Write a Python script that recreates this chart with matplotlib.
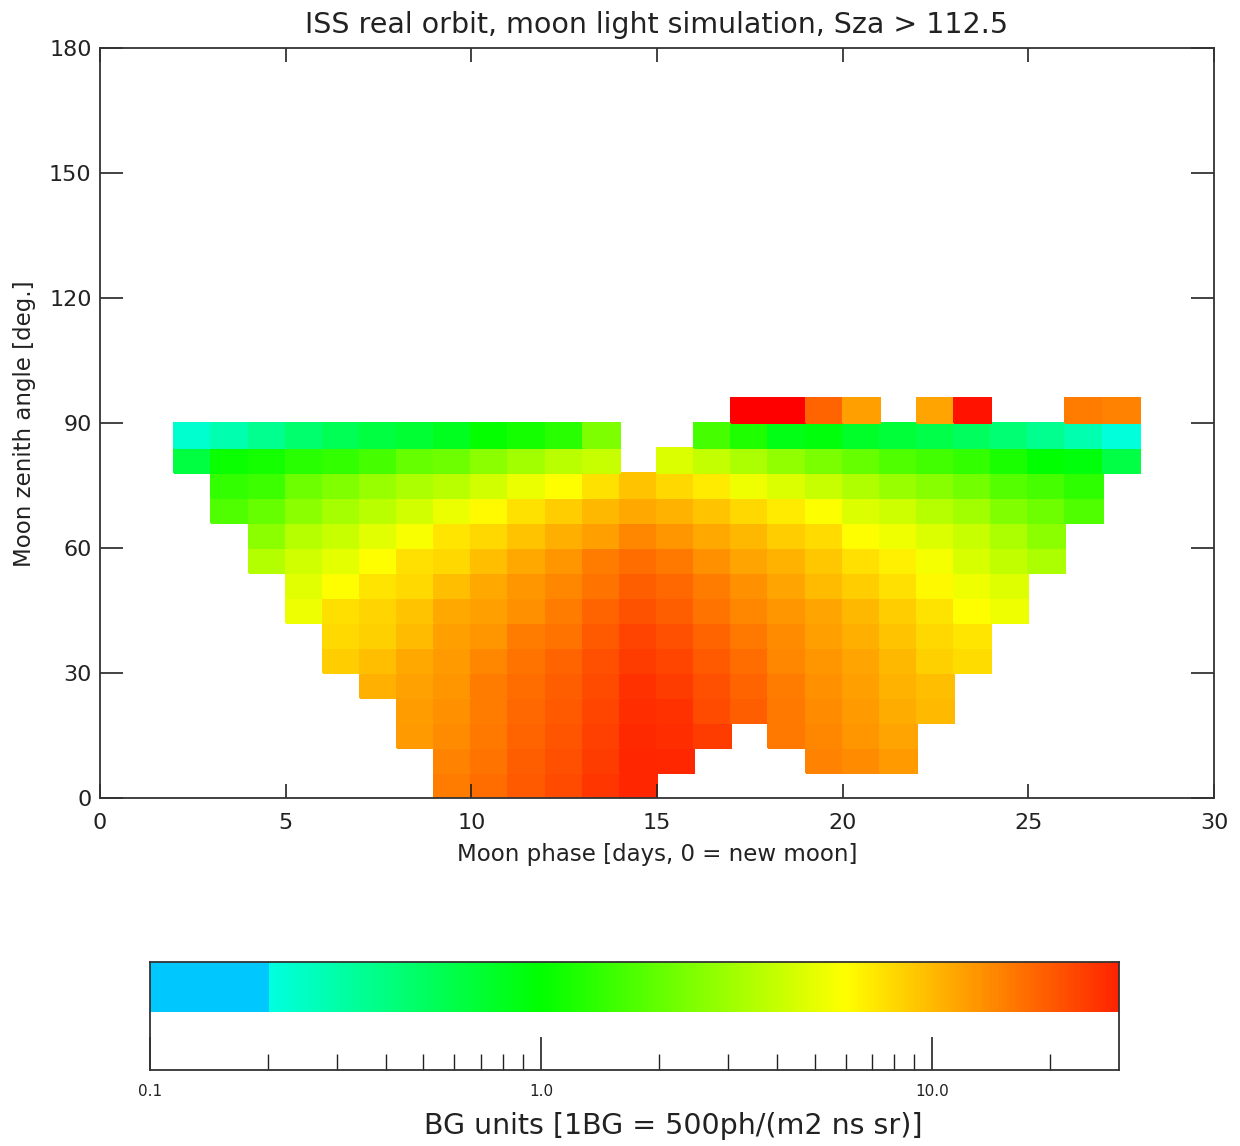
import numpy as np
import matplotlib
matplotlib.use("Agg")
import matplotlib.pyplot as plt
from matplotlib.colors import ListedColormap, LogNorm
from matplotlib.ticker import FixedLocator, NullFormatter

nan = np.nan

# bin edges of the 2D histogram
phase_bins = np.arange(2, 29, 1)      # moon phase [days]
zenith_bins = np.arange(0, 97, 6)     # moon zenith angle [deg]

# BG values per zenith bin (rows from 0-6 deg up to 90-96 deg), days 2..27
bg_00 = [nan]*7 + [15.5, 17.3, 20.0, 22.4, 25.9, 29.3] + [nan]*13
bg_06 = [nan]*7 + [15.0, 16.7, 19.3, 21.6, 25.0, 29.3, 28.9, nan, nan, nan, 15.0, 13.9, 12.5] + [nan]*6
bg_12 = [nan]*6 + [12.5, 13.9, 16.1, 18.6, 20.8, 24.1, 28.5, 27.9, 25.0, nan, 16.1, 14.4, 12.9, 11.6] + [nan]*6
bg_18 = [nan]*6 + [12.3, 13.4, 15.5, 18.0, 20.0, 23.2, 27.9, 26.9, 22.4, 19.3, 16.1, 13.9, 12.5, 11.0, 9.9] + [nan]*5
bg_24 = [nan]*5 + [10.6, 11.9, 12.9, 15.5, 17.3, 19.3, 22.4, 26.9, 25.0, 21.6, 18.6, 15.5, 13.4, 12.0, 10.4, 9.5] + [nan]*5
bg_30 = [nan]*4 + [8.6, 9.6, 11.2, 12.5, 14.4, 16.7, 18.6, 21.6, 25.0, 23.2, 20.0, 17.3, 14.4, 12.9, 11.6, 10.0, 8.5, 7.75] + [nan]*4
bg_36 = [nan]*4 + [7.9, 8.5, 9.8, 12.0, 12.9, 15.5, 16.7, 20.0, 23.6, 21.6, 18.6, 16.1, 13.9, 12.0, 10.8, 9.3, 8.0, 7.2] + [nan]*4
bg_42 = [nan]*3 + [5.3, 7.6, 8.2, 9.3, 11.2, 12.0, 13.4, 15.5, 18.6, 21.3, 19.3, 16.7, 14.4, 12.9, 11.6, 10.0, 8.6, 7.35, 6.0, 5.4] + [nan]*3
bg_48 = [nan]*3 + [4.85, 6.0, 7.3, 7.9, 9.6, 11.2, 12.9, 14.4, 16.7, 19.3, 18.0, 15.5, 13.4, 11.6, 9.8, 8.6, 7.5, 6.3, 5.4, 4.75] + [nan]*3
bg_54 = [nan]*2 + [3.5, 4.3, 4.95, 6.0, 7.5, 8.0, 9.6, 11.2, 12.9, 15.5, 17.3, 16.1, 13.4, 11.6, 10.4, 9.0, 7.5, 6.7, 5.6, 4.5, 3.9, 3.35] + [nan]*2
bg_60 = [nan]*2 + [2.67, 3.54, 4.07, 4.85, 5.8, 7.2, 8.0, 9.3, 10.8, 12.0, 14.4, 12.9, 11.2, 10.0, 8.6, 7.8, 6.0, 5.4, 4.7, 4.07, 3.3, 2.67] + [nan]*2
bg_66 = [nan] + [1.75, 2.02, 2.67, 3.19, 3.66, 4.37, 5.21, 6.22, 7.47, 8.64, 10.0, 11.2, 10.4, 9.3, 8.0, 6.95, 5.9, 4.7, 4.22, 3.54, 3.08, 2.46, 2.16, 1.75] + [nan]
bg_72 = [nan] + [1.42, 1.52, 2.16, 2.46, 2.87, 3.3, 3.66, 4.37, 5.21, 6.0, 7.47, 9.3, 8.0, 6.95, 5.4, 4.7, 4.07, 3.42, 2.87, 2.57, 2.23, 1.8, 1.63, 1.37] + [nan]
bg_78 = [0.63, 1.07, 1.15, 1.32, 1.42, 1.63, 2.02, 2.16, 2.67, 3.08, 3.66, 4.07, nan, 4.69, 3.93, 3.3,
         2.77, 2.36, 2.02, 1.75, 1.58, 1.42, 1.19, 1.0, 0.93, 0.61]
bg_84 = [0.23, 0.29, 0.36, 0.46, 0.55, 0.63, 0.70, 0.81, 1.03, 1.15, 1.32, 2.41, nan, nan, 1.63, 1.23,
         0.87, 0.93, 0.75, 0.67, 0.60, 0.51, 0.44, 0.36, 0.29, 0.21]
bg_90 = [nan]*15 + [45, 45, 18.6, 12.0, nan, 11.6, 34, nan, nan, 15.5, 15.0]

bg_rows = [bg_00, bg_06, bg_12, bg_18, bg_24, bg_30, bg_36, bg_42,
           bg_48, bg_54, bg_60, bg_66, bg_72, bg_78, bg_84, bg_90]

# colour table (IDL-like), defined in log10(BG)
anchor_log = [-1.0, -0.7, -0.699, 0.0, 0.778, 1.477, 1.602]
anchor_rgb = [(0, 200, 255), (0, 200, 255), (0, 255, 225), (0, 255, 0),
              (255, 255, 0), (255, 35, 0), (255, 0, 0)]
vmin, vmax = 0.1, 10**1.602
lg = np.linspace(-1.0, 1.602, 600)
rgb = np.array(anchor_rgb, dtype=float) / 255.0
cols = np.column_stack([np.interp(lg, anchor_log, rgb[:, k]) for k in range(3)])
cmap = ListedColormap(cols)
cmap.set_over((1, 0, 0))
cmap.set_under((0, 0.78, 1))
norm = LogNorm(vmin=vmin, vmax=vmax)

fig = plt.figure(figsize=(12.4, 11.46), dpi=100)
W, H = 1240, 1146
txt = '#222222'

# main panel
ax = fig.add_axes([100/W, 1 - 798/H, 1114/W, 750/H])
data = np.ma.masked_invalid(np.array(bg_rows, dtype=float))
ax.pcolormesh(phase_bins, zenith_bins, data, cmap=cmap, norm=norm,
              edgecolors='face', linewidth=0.3)
ax.set_xlim(0, 30)
ax.set_ylim(0, 180)
ax.set_xticks(np.arange(0, 31, 5))
ax.set_yticks(np.arange(0, 181, 30))
ax.tick_params(axis='x', direction='in', length=10, width=1.2, top=True,
               labelsize=16, pad=11, colors=txt)
ax.tick_params(axis='y', direction='in', length=16.5, width=1.2, right=True,
               labelsize=16, pad=6, colors=txt)
for s in ax.spines.values():
    s.set_linewidth(1.3)
    s.set_color('#333333')

fig.text(657/W, 1 - 25/H, 'ISS real orbit, moon light simulation, Sza > 112.5',
         ha='center', va='center', fontsize=20.5, color=txt)
fig.text(657/W, 1 - 855/H, 'Moon phase [days, 0 = new moon]',
         ha='center', va='center', fontsize=16.5, color=txt)
fig.text(25/W, 1 - 424/H, 'Moon zenith angle [deg.]', rotation=90,
         ha='center', va='center', fontsize=16.5, color=txt)

# colour bar: strip in the upper part, log ticks along the bottom
cax = fig.add_axes([150/W, 1 - 1070/H, 969/W, 108/H])
cb_edges = np.logspace(-1, np.log10(30), 400)
cb_vals = np.sqrt(cb_edges[:-1] * cb_edges[1:])[np.newaxis, :]
cax.pcolormesh(cb_edges, [0.537, 1.0], cb_vals, cmap=cmap, norm=norm)
cax.set_xscale('log')
cax.set_xlim(0.1, 30)
cax.set_ylim(0, 1)
cax.set_yticks([])
cax.xaxis.set_major_locator(FixedLocator([0.1, 1.0, 10.0]))
cax.set_xticklabels(['0.1', '1.0', '10.0'])
minor = [m * 10.0**e for e in (-1, 0, 1) for m in range(2, 10) if m * 10.0**e < 30]
cax.xaxis.set_minor_locator(FixedLocator(minor))
cax.xaxis.set_minor_formatter(NullFormatter())
cax.tick_params(axis='x', which='major', direction='in', length=24, width=1.2,
                labelsize=11, pad=10, colors=txt)
cax.tick_params(axis='x', which='minor', direction='in', length=11.5, width=1.0,
                colors=txt)
for s in cax.spines.values():
    s.set_linewidth(1.3)
    s.set_color('#333333')

fig.text(673/W, 1 - 1126/H, 'BG units [1BG = 500ph/(m2 ns sr)]',
         ha='center', va='center', fontsize=20.5, color=txt)

fig.savefig('out.png', dpi=100)
